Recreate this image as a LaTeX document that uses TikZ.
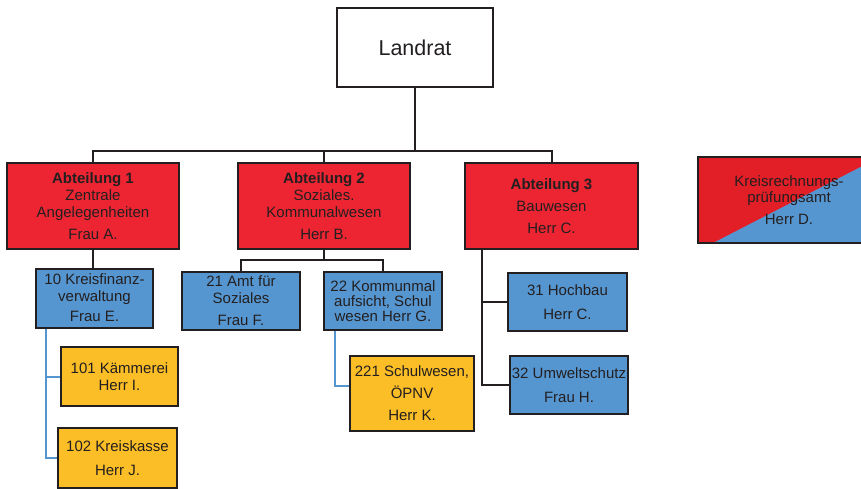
\documentclass[tikz,border=0pt]{standalone}
\usepackage{fontspec}
\setmainfont{Liberation Sans}
\usepackage{xcolor}
\usepackage{tikz}
\usetikzlibrary{positioning}
\definecolor{abtred}{RGB}{237,37,50}
\definecolor{krpred}{RGB}{226,30,39}
\definecolor{amtblue}{RGB}{86,150,208}
\definecolor{sgyellow}{RGB}{252,190,38}
\definecolor{linegray}{RGB}{35,31,32}

\begin{document}
\begin{tikzpicture}[
  x=1pt, y=-1pt,
  font=\fontsize{15}{17}\selectfont,
  box/.style={draw=linegray, line width=2pt, inner sep=1pt, align=center,
              text=linegray},
  top/.style={box, fill=white, minimum width=156pt, minimum height=79pt,
              font=\fontsize{21.5}{24}\selectfont},
  abt/.style={box, fill=abtred, minimum width=172pt, minimum height=86pt},
  amt/.style={box, fill=amtblue, minimum width=118pt, minimum height=58pt},
  sg/.style={box, fill=sgyellow, minimum width=118pt, minimum height=59pt},
  ln/.style={draw=linegray, line width=2pt},
  bln/.style={draw=amtblue, line width=2pt}
]
\useasboundingbox (0,0) rectangle (861,489);

% top and departments
\node[top] (landrat) at (415,47.5) {Landrat};
\node[abt] (abt1) at (93,206)
  {\textbf{Abteilung 1}\\Zentrale\\Angelegenheiten\\[5pt]Frau A.};
\node[abt] (abt2) at (324,206)
  {\textbf{Abteilung 2}\\Soziales.\\Kommunalwesen\\[5pt]Herr B.};
\node[abt, minimum width=173pt] (abt3) at (551.5,206)
  {\textbf{Abteilung 3}\\[5pt]Bauwesen\\[5pt]Herr C.};
\node[box, fill=krpred, minimum width=182pt, minimum height=86pt,
      font=\fontsize{15}{16}\selectfont,
      path picture={\fill[amtblue] ([xshift=15pt]path picture bounding box.south west)
        -- (path picture bounding box.north east)
        -- (path picture bounding box.south east) -- cycle;}] (krp) at (789,200)
  {Kreisrechnungs-\\prüfungsamt\\[6pt]Herr D.};

% offices
\node[amt, minimum width=117pt, minimum height=59pt] (a10) at (94.5,298)
  {10 Kreisfinanz-\\verwaltung\\[3pt]Frau E.};
\node[amt] (a21) at (241,301) {21 Amt für\\Soziales\\[5pt]Frau F.};
\node[amt] (a22) at (383,301)
  {22 Kommunmal\\[-2pt]aufsicht, Schul\\[-2pt]wesen Herr G.};
\node[amt, minimum width=119pt] (a31) at (567.5,302) {31 Hochbau\\[7pt]Herr C.};
\node[amt] (a32) at (569,385) {32 Umweltschutz\\[7pt]Frau H.};

% sub offices
\node[sg, minimum width=117pt] (a101) at (119.5,376.5) {101 Kämmerei\\Herr I.};
\node[sg, minimum width=119pt, minimum height=60pt] (a102) at (117.5,458)
  {102 Kreiskasse\\[7pt]Herr J.};
\node[sg, minimum width=124pt, minimum height=75pt] (a221) at (412,393)
  {221 Schulwesen,\\[5pt]ÖPNV\\[5pt]Herr K.};

% connectors
\coordinate (bar) at (415,151);
\draw[ln] (landrat.south) -- (landrat.south |- bar);
\draw[ln] (abt1.north) |- (bar) -| (abt3.north);
\draw[ln] (abt2.north) -- (abt2.north |- bar);

\draw[ln] (abt1.south) -- (abt1.south |- a10.north);

\coordinate (b2) at (324,260);
\draw[ln] (abt2.south) -- (b2);
\draw[ln] (a21.north) |- (b2) -| (a22.north);

\coordinate (b3) at ([xshift=18pt]abt3.south west);
\draw[ln] (b3) |- (a32.west);
\draw[ln] (b3 |- a31.west) -- (a31.west);

\coordinate (b10) at ([xshift=11pt]a10.south west);
\draw[bln] (b10) |- (a102.west);
\draw[bln] (b10 |- a101.west) -- (a101.west);

\draw[bln] ([xshift=12pt]a22.south west) |- ([yshift=7pt]a221.west);
\end{tikzpicture}
\end{document}
